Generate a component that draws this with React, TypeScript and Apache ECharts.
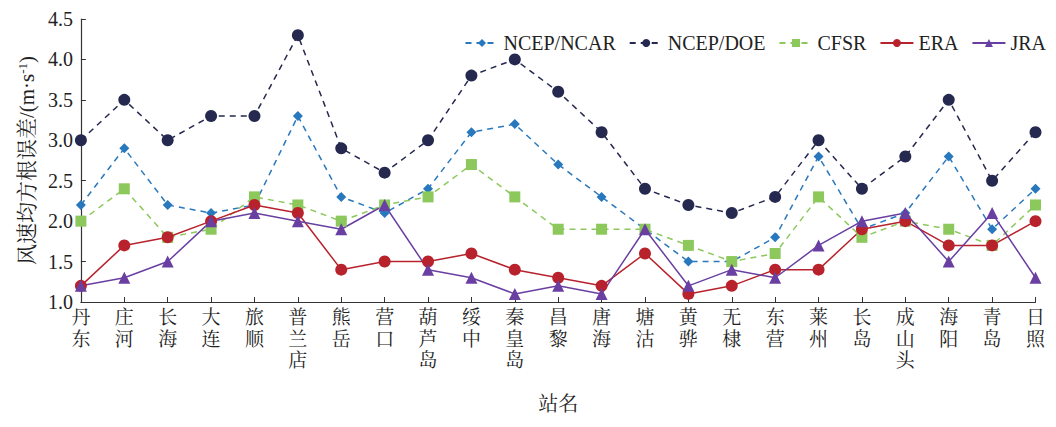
import React, { useEffect, useRef } from "react";
import * as echarts from "echarts";

const stations = [
  "丹东", "庄河", "长海", "大连", "旅顺", "普兰店", "熊岳", "营口", "葫芦岛", "绥中",
  "秦皇岛", "昌黎", "唐海", "塘沽", "黄骅", "无棣", "东营", "莱州", "长岛", "成山头",
  "海阳", "青岛", "日照",
];

const ncepNcar = [2.2, 2.9, 2.2, 2.1, 2.2, 3.3, 2.3, 2.1, 2.4, 3.1, 3.2, 2.7, 2.3, 1.9, 1.5, 1.5, 1.8, 2.8, 1.9, 2.1, 2.8, 1.9, 2.4];
const ncepDoe = [3.0, 3.5, 3.0, 3.3, 3.3, 4.3, 2.9, 2.6, 3.0, 3.8, 4.0, 3.6, 3.1, 2.4, 2.2, 2.1, 2.3, 3.0, 2.4, 2.8, 3.5, 2.5, 3.1];
const cfsr = [2.0, 2.4, 1.8, 1.9, 2.3, 2.2, 2.0, 2.2, 2.3, 2.7, 2.3, 1.9, 1.9, 1.9, 1.7, 1.5, 1.6, 2.3, 1.8, 2.0, 1.9, 1.7, 2.2];
const era = [1.2, 1.7, 1.8, 2.0, 2.2, 2.1, 1.4, 1.5, 1.5, 1.6, 1.4, 1.3, 1.2, 1.6, 1.1, 1.2, 1.4, 1.4, 1.9, 2.0, 1.7, 1.7, 2.0];
const jra = [1.2, 1.3, 1.5, 2.0, 2.1, 2.0, 1.9, 2.2, 1.4, 1.3, 1.1, 1.2, 1.1, 1.9, 1.2, 1.4, 1.3, 1.7, 2.0, 2.1, 1.5, 2.1, 1.3];

const FONT = "'Liberation Serif', 'Times New Roman', 'Noto Serif CJK SC', 'Noto Sans CJK SC', serif";
const AXIS_COLOR = "#333333";
const TEXT_COLOR = "#222222";

export default function App() {
  const ref = useRef<HTMLDivElement>(null);

  useEffect(() => {
    if (!ref.current) return;
    const chart = echarts.init(ref.current, null, { renderer: "svg" });

    const mk = (
      name: string,
      data: number[],
      color: string,
      symbol: string,
      symbolSize: number,
      dashed: boolean
    ) => ({
      name,
      type: "line",
      data,
      symbol,
      symbolSize,
      itemStyle: { color },
      lineStyle: { color, width: 1.5, type: dashed ? [6, 5] : "solid" },
      emphasis: { disabled: true },
    });

    chart.setOption({
      animation: false,
      textStyle: { fontFamily: FONT },
      grid: { left: 66, right: 4, top: 11, bottom: 98 },
      legend: {
        top: 25,
        right: 2,
        padding: 0,
        itemWidth: 33,
        itemHeight: 10,
        itemGap: 13,
        textStyle: { fontFamily: FONT, fontSize: 20, color: TEXT_COLOR },
        data: ["NCEP/NCAR", "NCEP/DOE", "CFSR", "ERA", "JRA"],
      },
      xAxis: {
        type: "category",
        data: stations,
        boundaryGap: false,
        name: "站名",
        nameLocation: "middle",
        nameGap: 92,
        nameTextStyle: { fontFamily: FONT, fontSize: 20, color: TEXT_COLOR },
        axisLine: { lineStyle: { color: AXIS_COLOR, width: 1.2 } },
        axisTick: { inside: true, length: 5, lineStyle: { color: AXIS_COLOR } },
        axisLabel: {
          interval: 0,
          margin: 5,
          fontFamily: FONT,
          fontSize: 19,
          lineHeight: 21.5,
          color: TEXT_COLOR,
          formatter: (v: string) => v.split("").join("\n"),
        },
      },
      yAxis: {
        type: "value",
        min: 1,
        max: 4.5,
        interval: 0.5,
        name: "{a|风速均方根误差/(m·s}{sup|-1}{a|)}",
        nameLocation: "middle",
        nameRotate: 90,
        nameGap: 43,
        nameTextStyle: {
          fontFamily: FONT,
          color: TEXT_COLOR,
          rich: {
            a: { fontFamily: FONT, fontSize: 21, color: TEXT_COLOR },
            sup: { fontFamily: FONT, fontSize: 13, color: TEXT_COLOR, verticalAlign: "top" },
          },
        },
        splitLine: { show: false },
        axisLine: { show: true, lineStyle: { color: AXIS_COLOR, width: 1.2 } },
        axisTick: { show: true, inside: true, length: 5, lineStyle: { color: AXIS_COLOR } },
        axisLabel: {
          margin: 8,
          fontFamily: FONT,
          fontSize: 20,
          color: TEXT_COLOR,
          formatter: (v: number) => v.toFixed(1),
        },
      },
      series: [
        mk("NCEP/NCAR", ncepNcar, "#2878bd", "diamond", 10, true),
        mk("NCEP/DOE", ncepDoe, "#25284f", "circle", 12, true),
        mk("CFSR", cfsr, "#8cc85c", "rect", 11, true),
        mk("ERA", era, "#b8222c", "circle", 12, false),
        mk("JRA", jra, "#6a3fa2", "triangle", 12, false),
      ],
    });

    return () => chart.dispose();
  }, []);

  return <div ref={ref} style={{ width: 1040, height: 411 }} />;
}
